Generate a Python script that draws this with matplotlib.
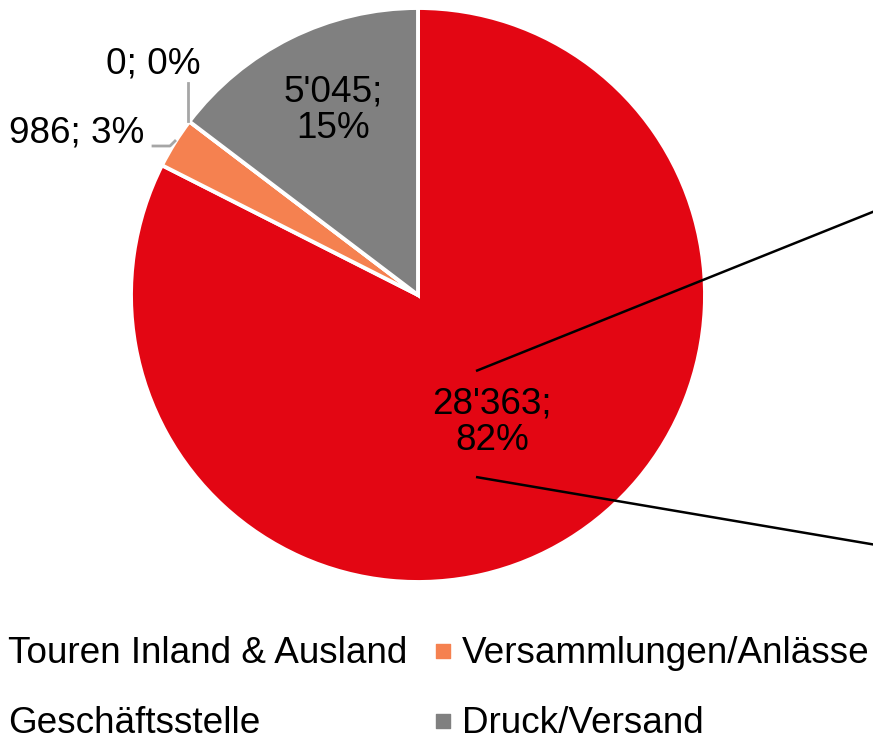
import matplotlib.pyplot as plt

plt.rcParams['font.family'] = ['Liberation Sans', 'DejaVu Sans']

# data
categories = ['Touren Inland & Ausland', 'Versammlungen/Anlässe', 'Geschäftsstelle', 'Druck/Versand']
amounts = [28363, 986, 0, 5045]
labels = ["28'363;\n82%", "986; 3%", "0; 0%", "5'045;\n15%"]
colors = ['#E30613', '#F58150', '#A50021', '#808080']

W, H = 873, 741


def py(y):
    # picture y (from top) -> axes y (from bottom)
    return H - y


fig = plt.figure(figsize=(W / 100, H / 100), dpi=100)
ax = fig.add_axes([0, 0, 1, 1])

ax.pie(amounts, colors=colors, startangle=90, counterclock=False,
       center=(418, py(295)), radius=287,
       wedgeprops=dict(edgecolor='white', linewidth=2.8))

ax.set_xlim(0, W)
ax.set_ylim(0, H)
ax.set_aspect('equal')
ax.axis('off')

# connector lines running off to the right
ax.plot([476, 900], [py(371), py(201)], color='black', lw=1.8, solid_capstyle='butt')
ax.plot([476, 900], [py(477), py(549)], color='black', lw=1.8, solid_capstyle='butt')

fs = 26.6
# data labels
ax.text(492, py(422), labels[0], ha='center', va='center', fontsize=fs, linespacing=1.05)
ax.text(333, py(110), labels[3], ha='center', va='center', fontsize=fs, linespacing=1.05)
ax.text(77, py(133), labels[1], ha='center', va='center', fontsize=fs)
ax.text(153, py(64), labels[2], ha='center', va='center', fontsize=fs)

# leader lines
lead = '#A6A6A6'
ax.plot([153, 170, 175], [py(146), py(146), py(141)], color=lead, lw=2)
ax.plot([188, 188], [py(83), py(121)], color=lead, lw=2)

# legend, two columns, left column markers sit outside the picture
col_x = [8, 462, 8, 462]
row_y = [663, 663, 733, 733]
for name, c, x, y in zip(categories, colors, col_x, row_y):
    ax.scatter([x - 19], [py(y - 12)], marker='s', s=110, color=c, clip_on=True)
    ax.text(x, py(y), name, ha='left', va='baseline', fontsize=fs)

fig.savefig('out.png', dpi=100)
